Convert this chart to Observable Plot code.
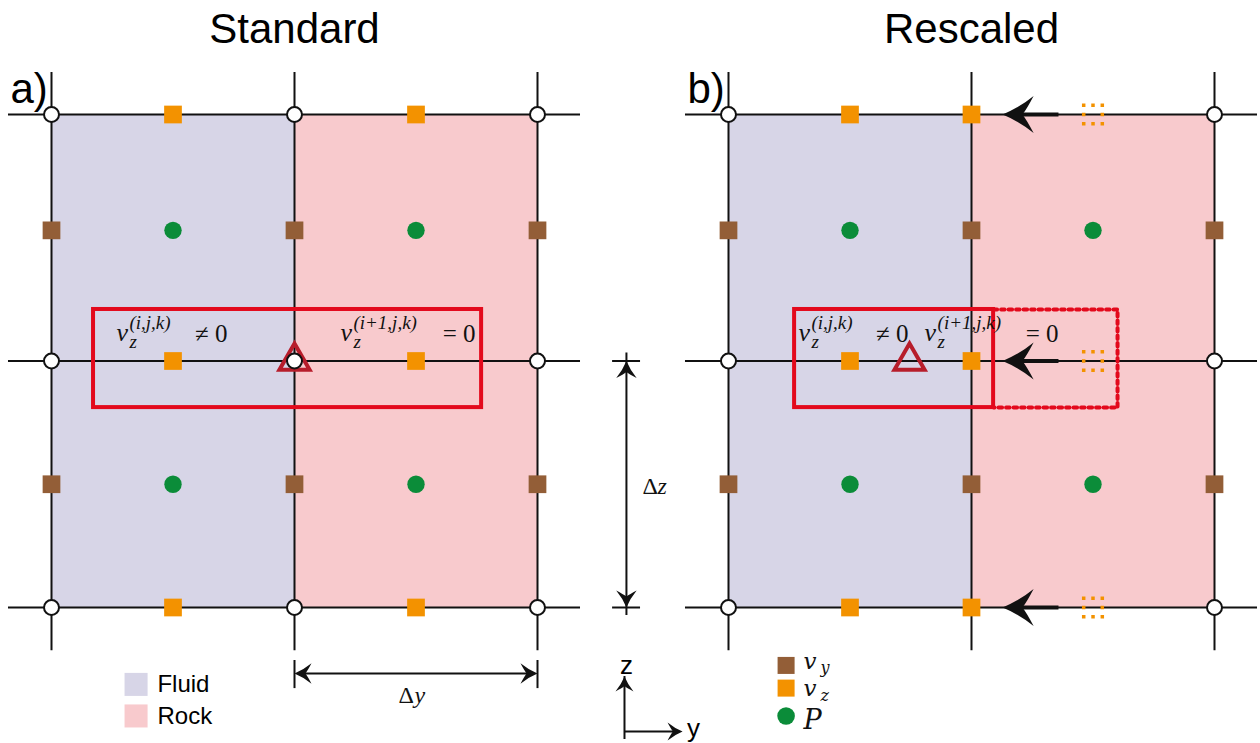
<!DOCTYPE html>
<html>
<head>
<meta charset="utf-8">
<script src="https://cdn.jsdelivr.net/npm/d3@7"></script>
<script src="https://cdn.jsdelivr.net/npm/@observablehq/plot@0.6"></script>
<style>
  body { margin: 0; background: #fff; }
  #chart svg { display: block; }
</style>
</head>
<body>
<div id="chart"></div>
<script>
// ---- staggered grid: two 2x2-cell panels, positions in cell units (Δy across, Δz up) ----
const panels = ["a", "b"];
const panelTitles = ["Standard", "Rescaled"];
const panelTags = ["a)", "b)"];

const edges = [0, 1, 2];                  // cell faces (both directions)
const materials = ["Fluid", "Rock"];
const cellFrom = [0, 1];
const cellTo = [1, 2];

const vyCols = [0, 1, 2];                 // v_y on vertical faces
const vyRows = [1.53, 0.5];
const pCols = [0.5, 1.5];                 // pressure at cell centres
const pRows = [1.53, 0.5];
const vzRows = [0, 1, 2];                 // v_z on horizontal faces
const vzColsStandard = [0.5, 1.5];
const vzColsRescaled = [0.5, 1];          // rock-side v_z moved onto the interface
const vzColsGhost = [1.5];                // its original location
const nodeRows = [0, 1, 2];
const nodeColsStandard = [0, 1, 2];
const nodeColsRescaled = [0, 2];

const shiftTip = 1.128;                   // arrows showing the v_z shift
const shiftTail = 1.36;
const flagCols = [1, 0.745];              // triangle marker, per panel
const flagRow = 1;

const boxFrom = [0.173, 0.272];           // stencil boxes, per panel
const boxTo = [1.77, 1.091];
const boxLow = 0.811, boxHigh = 1.209;
const ghostBoxTo = 1.601;

const eqPanel = [0, 0, 1, 1];
const eqStart = [0.267, 1.189, 0.288, 0.807];
const eqEnd = [0.724, 1.745, 0.741, 1.358];
const eqSup = ["(i,j,k)", "(i+1,j,k)", "(i,j,k)", "(i+1,j,k)"];
const eqRel = ["≠ 0", "= 0", "≠ 0", "= 0"];
const eqRow = 1.116;

const legendBase = ["v", "v", "P"];
const legendSubs = ["y", "z", ""];
const legendKinds = ["vy", "vz", "P"];
const legendRows = [-0.235, -0.327, -0.44];
const materialRows = [-0.312, -0.44];

// ---- layout ----
const W = 1260, H = 743;
const unitY = 243, unitZ = 246.5, originY = 51, originZ = 607;
const panelShift = [0, 2.786];
const lineReachY = [-0.177, 2.177];
const lineReachZ = [-0.175, 2.17];

const colors = {
  Fluid: "#d7d5e7", Rock: "#f8cacd",
  vy: "#935e37", vz: "#f39200", P: "#0b8c39",
  box: "#e3091c", flag: "#b71d2b", ink: "#111"
};
const serif = "Liberation Serif, Times New Roman, serif";
const mathSerif = "DejaVu Serif, serif";
const sans = "Liberation Sans, Arial, Helvetica, sans-serif";

// ---- filled stealth arrowhead, tip at the dot position ----
function stealth(dir) {
  const [ux, uy] = {left: [-1, 0], right: [1, 0], up: [0, -1], down: [0, 1]}[dir];
  return {
    draw(ctx, size) {
      const r = Math.sqrt(size / Math.PI);
      const L = 2 * r, Wd = 1.2 * r, N = 0.64 * L;
      const P = (a, b) => [a * ux - b * uy, a * uy + b * ux];
      ctx.moveTo(...P(0, 0));
      ctx.quadraticCurveTo(...P(-0.55 * L, -0.38 * Wd), ...P(-L, -Wd));
      ctx.quadraticCurveTo(...P(-0.78 * L, -0.3 * Wd), ...P(-N, 0));
      ctx.quadraticCurveTo(...P(-0.78 * L, 0.3 * Wd), ...P(-L, Wd));
      ctx.quadraticCurveTo(...P(-0.55 * L, 0.38 * Wd), ...P(0, 0));
      ctx.closePath();
    }
  };
}

// ---- derived tables ----
const at = (p, y) => y + panelShift[p];
const grid = (p, cols, rows) => cols.flatMap(c => rows.map(z => ({gx: at(p, c), gz: z})));
const both = (cols, rows) => panels.flatMap((_, p) => grid(p, cols, rows));

const cells = panels.flatMap((_, p) => materials.map((m, i) => ({m, x1: at(p, cellFrom[i]), x2: at(p, cellTo[i])})));
const hLines = panels.flatMap((_, p) => edges.map(z => ({gz: z, x1: at(p, lineReachY[0]), x2: at(p, lineReachY[1])})));
const vLines = panels.flatMap((_, p) => edges.map(c => ({gx: at(p, c)})));
const vyPts = both(vyCols, vyRows);
const pPts = both(pCols, pRows);
const vzPts = [...grid(0, vzColsStandard, vzRows), ...grid(1, vzColsRescaled, vzRows)];
const ghostPts = grid(1, vzColsGhost, vzRows);
const nodePts = [...grid(0, nodeColsStandard, nodeRows), ...grid(1, nodeColsRescaled, nodeRows)];
const flags = panels.map((_, p) => ({gx: at(p, flagCols[p]), gz: flagRow}));
const boxes = panels.map((_, p) => ({x1: at(p, boxFrom[p]), x2: at(p, boxTo[p])}));
const ghostBox = [
  {gx: at(1, boxTo[1]), gz: boxHigh}, {gx: at(1, ghostBoxTo), gz: boxHigh},
  {gx: at(1, ghostBoxTo), gz: boxLow}, {gx: at(1, boxTo[1]), gz: boxLow}
];
const shifts = vzRows.map(z => ({gz: z, tip: at(1, shiftTip), tail: at(1, shiftTail)}));
// superscript stacked over the subscript "z" in one two-line text
const eqs = eqPanel.map((p, i) => ({start: at(p, eqStart[i]), end: at(p, eqEnd[i]), scripts: eqSup[i] + "\nz", rel: eqRel[i]}));
const titles = panels.map((_, p) => ({gx: at(p, 1), title: panelTitles[p], tag: panelTags[p], tagX: at(p, -0.169)}));

// dimension lines and the axis key (panel a, right of the grid)
const dimZ = {gx: 2.366, from: 0, to: 1, barFrom: 2.309, barTo: 2.424, labelX: 2.432, labelZ: 0.49};
const dimY = {gz: -0.268, from: 1, to: 2, barLow: -0.329, barHigh: -0.215, labelX: 1.428, labelZ: -0.357};
const axisKey = {gx: 2.358, gz: -0.503, zTip: -0.28, yTip: 2.597};

const legendA = materials.map((m, i) => ({m, gx: at(0, 0.348), tx: at(0, 0.436), gz: materialRows[i]}));
const legendB = legendKinds.map((k, i) => ({k, gx: at(1, 0.237), gz: legendRows[i]}));
// the two velocity entries share one stacked label (v / subscripts)
const velocityLabel = [{
  tx: at(1, 0.309), gz: legendRows[1],
  base: legendBase.filter((_, i) => legendSubs[i]).join("\n"),
  sub: legendSubs.filter(s => s).join("\n")
}];
const pressureLabel = [{tx: at(1, 0.309), gz: legendRows[2], base: legendBase[2]}];

const chart = Plot.plot({
  width: W,
  height: H,
  margin: 0,
  style: {background: "white", fontFamily: sans},
  x: {axis: null, domain: [-originY / unitY, (W - originY) / unitY]},
  y: {axis: null, domain: [(originZ - H) / unitZ, originZ / unitZ]},
  marks: [
    // fluid and rock cells
    Plot.rect(cells.filter(d => d.m === "Fluid"), {x1: "x1", x2: "x2", y1: 0, y2: 2, fill: colors.Fluid}),
    Plot.rect(cells.filter(d => d.m === "Rock"), {x1: "x1", x2: "x2", y1: 0, y2: 2, fill: colors.Rock}),
    // grid lines
    Plot.ruleY(hLines, {y: "gz", x1: "x1", x2: "x2", stroke: colors.ink, strokeWidth: 2}),
    Plot.ruleX(vLines, {x: "gx", y1: lineReachZ[0], y2: lineReachZ[1], stroke: colors.ink, strokeWidth: 2}),
    // stencil boxes
    Plot.rect(boxes, {x1: "x1", x2: "x2", y1: boxLow, y2: boxHigh, fill: "none", stroke: colors.box, strokeWidth: 4}),
    Plot.line(ghostBox, {x: "gx", y: "gz", stroke: colors.box, strokeWidth: 4, strokeDasharray: "3.5,4"}),
    // Δz dimension
    Plot.ruleX([dimZ], {x: "gx", y1: "from", y2: "to", stroke: colors.ink, strokeWidth: 2, insetTop: 8, insetBottom: 8}),
    Plot.ruleY([dimZ.from, dimZ.to], {y: d => d, x1: dimZ.barFrom, x2: dimZ.barTo, stroke: colors.ink, strokeWidth: 2}),
    Plot.dot([dimZ], {x: "gx", y: "to", symbol: stealth("up"), r: 8.5, fill: colors.ink, stroke: "none"}),
    Plot.dot([dimZ], {x: "gx", y: "from", symbol: stealth("down"), r: 8.5, fill: colors.ink, stroke: "none"}),
    Plot.text([dimZ], {x: "labelX", y: "labelZ", text: () => "Δ", fontFamily: serif, fontSize: 24, textAnchor: "start", fill: colors.ink}),
    Plot.text([dimZ], {x: "labelX", y: "labelZ", text: () => "z", dx: 15, fontFamily: serif, fontStyle: "italic", fontSize: 24, textAnchor: "start", fill: colors.ink}),
    // Δy dimension
    Plot.ruleY([dimY], {y: "gz", x1: "from", x2: "to", stroke: colors.ink, strokeWidth: 2, insetLeft: 8, insetRight: 8}),
    Plot.ruleX([dimY.from, dimY.to], {x: d => d, y1: dimY.barLow, y2: dimY.barHigh, stroke: colors.ink, strokeWidth: 2}),
    Plot.dot([dimY], {x: "from", y: "gz", symbol: stealth("left"), r: 8.5, fill: colors.ink, stroke: "none"}),
    Plot.dot([dimY], {x: "to", y: "gz", symbol: stealth("right"), r: 8.5, fill: colors.ink, stroke: "none"}),
    Plot.text([dimY], {x: "labelX", y: "labelZ", text: () => "Δ", fontFamily: serif, fontSize: 24, textAnchor: "start", fill: colors.ink}),
    Plot.text([dimY], {x: "labelX", y: "labelZ", text: () => "y", dx: 16, fontFamily: serif, fontStyle: "italic", fontSize: 24, textAnchor: "start", fill: colors.ink}),
    // unknowns
    Plot.dot(vyPts, {x: "gx", y: "gz", symbol: "square", r: 10, fill: colors.vy, stroke: "none"}),
    Plot.dot(vzPts, {x: "gx", y: "gz", symbol: "square", r: 10, fill: colors.vz, stroke: "none"}),
    Plot.dot(ghostPts, {x: "gx", y: "gz", symbol: "square", r: 10.5, fill: "none", stroke: colors.vz, strokeWidth: 3.5, strokeDasharray: "3.5,5.8", strokeDashoffset: 1.75}),
    Plot.dot(pPts, {x: "gx", y: "gz", r: 8.7, fill: colors.P, stroke: "none"}),
    Plot.dot(flags, {x: "gx", y: "gz", symbol: "triangle", r: 11.2, fill: "none", stroke: colors.flag, strokeWidth: 4, strokeLinejoin: "miter"}),
    Plot.dot(nodePts, {x: "gx", y: "gz", r: 7.5, fill: "white", stroke: colors.ink, strokeWidth: 2}),
    // shift arrows (rescaled panel)
    Plot.ruleY(shifts, {y: "gz", x1: "tip", x2: "tail", stroke: colors.ink, strokeWidth: 4, insetLeft: 16}),
    Plot.dot(shifts, {x: "tip", y: "gz", symbol: stealth("left"), r: 15.5, fill: colors.ink, stroke: "none"}),
    // boundary equations
    Plot.text(eqs, {x: "start", y: eqRow, text: () => "v", fontFamily: serif, fontStyle: "italic", fontSize: 26, textAnchor: "start", fill: colors.ink}),
    Plot.text(eqs, {x: "start", y: eqRow, text: "scripts", dx: 13, dy: 16, lineAnchor: "bottom", lineHeight: 1, fontFamily: serif, fontStyle: "italic", fontSize: 19, textAnchor: "start", fill: colors.ink}),
    Plot.text(eqs, {x: "end", y: eqRow, text: "rel", dy: 2, fontFamily: serif, fontSize: 25, textAnchor: "end", fill: colors.ink}),
    // titles and panel tags
    Plot.text(titles, {x: "gx", y: 2.346, text: "title", fontFamily: sans, fontSize: 42, fill: "#000"}),
    Plot.text(titles, {x: "tagX", y: 2.103, text: "tag", fontFamily: sans, fontSize: 42, textAnchor: "start", fill: "#000"}),
    // material legend
    Plot.dot(legendA.filter(d => d.m === "Fluid"), {x: "gx", y: "gz", symbol: "square", r: 13, fill: colors.Fluid, stroke: "none"}),
    Plot.dot(legendA.filter(d => d.m === "Rock"), {x: "gx", y: "gz", symbol: "square", r: 13, fill: colors.Rock, stroke: "none"}),
    Plot.text(legendA, {x: "tx", y: "gz", text: "m", fontFamily: sans, fontSize: 24, textAnchor: "start", fill: "#000"}),
    // axis key
    Plot.ruleX([axisKey], {x: "gx", y1: "gz", y2: "zTip", stroke: colors.ink, strokeWidth: 2, insetTop: 8}),
    Plot.ruleY([axisKey], {y: "gz", x1: "gx", x2: "yTip", stroke: colors.ink, strokeWidth: 2, insetRight: 8}),
    Plot.dot([axisKey], {x: "gx", y: "zTip", symbol: stealth("up"), r: 7.5, fill: colors.ink, stroke: "none"}),
    Plot.dot([axisKey], {x: "yTip", y: "gz", symbol: stealth("right"), r: 7.5, fill: colors.ink, stroke: "none"}),
    Plot.text([axisKey], {x: "gx", y: -0.235, text: () => "z", dx: 2, fontFamily: sans, fontSize: 26, fill: "#000"}),
    Plot.text([axisKey], {x: 2.642, y: -0.493, text: () => "y", fontFamily: sans, fontSize: 26, fill: "#000"}),
    // unknowns legend
    Plot.dot(legendB.filter(d => d.k === "vy"), {x: "gx", y: "gz", symbol: "square", r: 9.6, fill: colors.vy, stroke: "none"}),
    Plot.dot(legendB.filter(d => d.k === "vz"), {x: "gx", y: "gz", symbol: "square", r: 9.6, fill: colors.vz, stroke: "none"}),
    Plot.dot(legendB.filter(d => d.k === "P"), {x: "gx", y: "gz", r: 8.8, fill: colors.P, stroke: "none"}),
    Plot.text(velocityLabel, {x: "tx", y: "gz", text: "base", dy: 7.5, lineAnchor: "bottom", lineHeight: 1.174, fontFamily: mathSerif, fontStyle: "italic", fontSize: 23, textAnchor: "start", fill: colors.ink}),
    Plot.text(velocityLabel, {x: "tx", y: "gz", text: "sub", dx: 17, dy: 12.5, lineAnchor: "bottom", lineHeight: 1.75, fontFamily: mathSerif, fontStyle: "italic", fontSize: 16, textAnchor: "start", fill: colors.ink}),
    Plot.text(pressureLabel, {x: "tx", y: "gz", text: "base", dy: 13.5, lineAnchor: "bottom", fontFamily: mathSerif, fontStyle: "italic", fontSize: 27, textAnchor: "start", fill: colors.ink})
  ]
});

document.getElementById("chart").append(chart);
</script>
</body>
</html>
